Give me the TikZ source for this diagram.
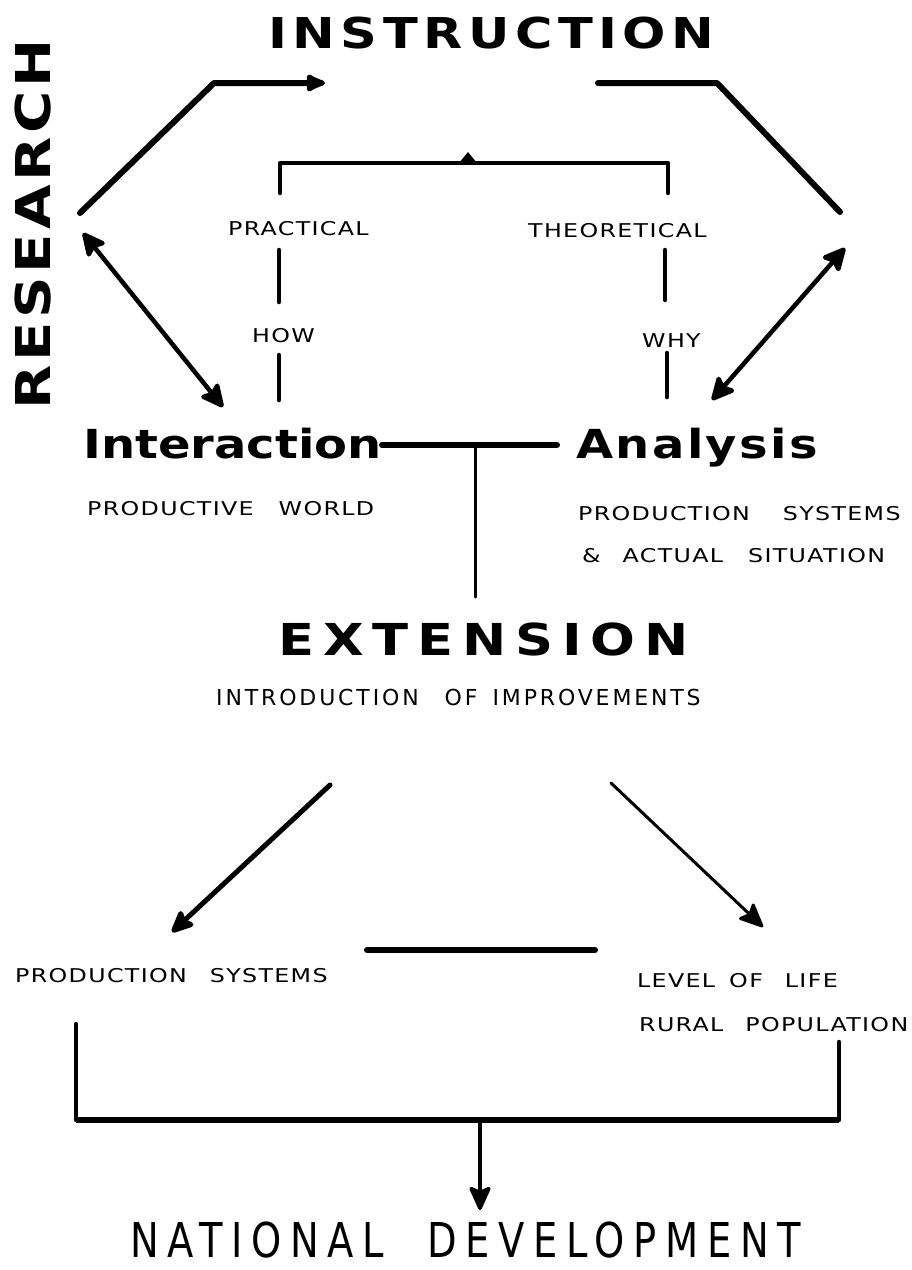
\documentclass[tikz,border=0pt]{standalone}
\usepackage{fontspec}
\setmainfont{DejaVu Sans}
\newfontfamily\heavyfont{DejaVu Sans}[FakeStretch=1.2]
\newfontfamily\labelfont{DejaVu Sans}[FakeStretch=1.25,LetterSpace=7]
\newfontfamily\plainfont{DejaVu Sans}[LetterSpace=13]
\newfontfamily\tallfont{DejaVu Sans}[FakeStretch=0.8,LetterSpace=18]
\usetikzlibrary{arrows.meta}

\begin{document}
\begin{tikzpicture}[x=1pt, y=-1pt,
    heavyline/.style={line width=6pt, line cap=round, line join=round},
    midline/.style={line width=4.5pt, line cap=round, line join=round},
    thinline/.style={line width=3pt, line cap=round},
    tip/.style={-{Stealth[length=27pt,width=24pt,inset=5pt,round]}},
    bullettip/.style={-{Latex[length=25pt,width=21pt,round]}},
    twotips/.style={{Stealth[length=27pt,width=26pt,inset=5pt,round]}-{Stealth[length=27pt,width=26pt,inset=5pt,round]}},
    bigword/.style={inner sep=0pt, anchor=base west, font=\heavyfont\bfseries},
    smallword/.style={inner sep=0pt, anchor=base west, font=\labelfont\fontsize{19}{21}\selectfont}
    ]
    \useasboundingbox (0,0) rectangle (912,1270);
    \fill[white] (0,0) rectangle (912,1270);

    % headings
    \node[bigword] (instr) at (268,48) {\fontsize{42.5}{44}\selectfont\addfontfeatures{LetterSpace=13}INSTRUCTION};
    \node[bigword, rotate=90] (resea) at (50,410) {\fontsize{48}{50}\selectfont\addfontfeatures{LetterSpace=8}RESEARCH};
    \node[bigword] (inter) at (83,458) {\fontsize{40}{42}\selectfont Interaction};
    \node[bigword] (analy) at (576,458) {\fontsize{40}{42}\selectfont\addfontfeatures{LetterSpace=6}Analysis};
    \node[bigword] (exten) at (278,655) {\fontsize{44}{46}\selectfont\addfontfeatures{LetterSpace=20}EXTENSION};
    \node[inner sep=0pt, anchor=base west, font=\tallfont\fontsize{48}{50}\selectfont] (natdev) at (130,1257) {NATIONAL\hspace{0.9em}DEVELOPMENT};

    % small labels
    \node[smallword] (pract) at (228,235) {PRACTICAL};
    \node[smallword] (theor) at (528,237) {THEORETICAL};
    \node[smallword] (how) at (252,342) {HOW};
    \node[smallword] (why) at (642,347) {WHY};
    \node[smallword] (prodw) at (87,515) {PRODUCTIVE\hspace{25pt}WORLD};
    \node[smallword] (prods) at (578,520) {PRODUCTION\hspace{33pt}SYSTEMS};
    \node[smallword] (actual) at (582,562) {\&\hspace{22pt}ACTUAL\hspace{25pt}SITUATION};
    \node[inner sep=0pt, anchor=base west, font=\plainfont\fontsize{22}{24}\selectfont] (intro) at (216,705) {INTRODUCTION\hspace{26pt}OF\hspace{15pt}IMPROVEMENTS};
    \node[smallword] (prodsys) at (15,982) {PRODUCTION\hspace{23pt}SYSTEMS};
    \node[smallword] (level) at (637,987) {LEVEL\hspace{14pt}OF\hspace{22pt}LIFE};
    \node[smallword] (rural) at (639,1031) {RURAL\hspace{22pt}POPULATION};

    % ends of the connectors
    \coordinate (r1) at (80,213);
    \coordinate (r2) at (214,83);
    \coordinate (r3) at (325,83);
    \coordinate (i1) at (598,83);
    \coordinate (i2) at (717,83);
    \coordinate (i3) at (840,212);
    \coordinate (rl) at (83,233);
    \coordinate (rr) at (845,248);
    \coordinate (il) at (223,407);
    \coordinate (ar) at (712,400);
    \coordinate (bl) at (280,193);
    \coordinate (br) at (668,193);
    \coordinate (bt) at (468,163);
    \coordinate (mid) at (475,445);
    \coordinate (ex) at (475,597);
    \coordinate (el) at (330,785);
    \coordinate (er) at (611,783);
    \coordinate (pl) at (172,932);
    \coordinate (pr) at (763,927);
    \coordinate (dl) at (76,1024);
    \coordinate (dr) at (839,1042);
    \coordinate (dm) at (480,1120);
    \coordinate (nd) at (480,1210);

    % top loop
    \draw[heavyline, bullettip] (r1) -- (r2) -- (r3);
    \draw[heavyline] (i1) -- (i2) -- (i3);
    \draw[midline, twotips] (rl) -- (il);
    \draw[midline, twotips] (rr) -- (ar);

    % practical / theoretical bracket
    \draw[midline] (bl) -- (bl |- bt) -- (br |- bt) -- (br);
    \fill ([xshift=-9pt]bt) -- ([yshift=11pt]bt) -- ([xshift=9pt]bt) -- cycle;
    \draw[midline] (279,250) -- (279,302);
    \draw[midline] (279,355) -- (279,400);
    \draw[midline] (665,250) -- (665,300);
    \draw[midline] (667,353) -- (667,397);

    % interaction - analysis - extension
    \draw[heavyline] (inter.east |- mid) -- (557,445);
    \draw[thinline] (mid) -- (ex);

    % extension results
    \draw[midline, line width=5pt, tip] (el) -- (pl);
    \draw[thinline, tip] (er) -- (pr);
    \draw[heavyline] (367,950) -- (595,950);
    \draw[midline] (dl) -- (dl |- dm) -- (dr |- dm) -- (dr);
    \draw[heavyline, line cap=butt] (dl |- dm) -- (dr |- dm);
    \draw[thinline, line width=3.5pt, tip] (dm) -- (nd);
  \end{tikzpicture}
\end{document}
